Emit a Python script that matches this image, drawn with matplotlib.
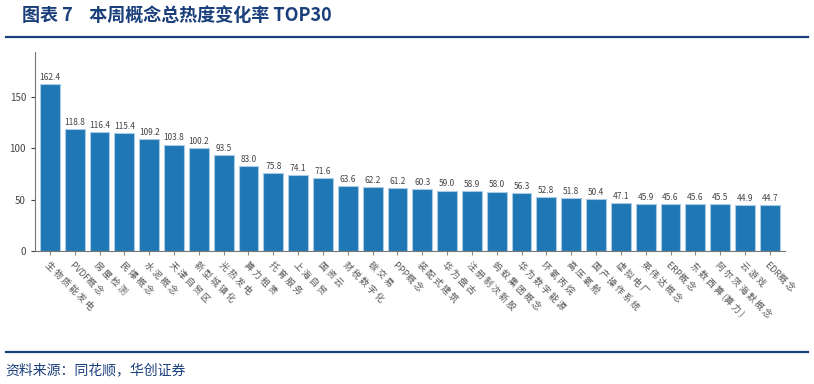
import matplotlib
matplotlib.use("Agg")
import matplotlib.pyplot as plt
from matplotlib.lines import Line2D

plt.rcParams['font.family'] = ['Noto Sans CJK SC', 'DejaVu Sans']

concepts = ["生物质能发电", "PVDF概念", "房屋检测", "民爆概念", "水泥概念", "天津自贸区",
            "新型城镇化", "光热发电", "算力租赁", "托育服务", "上海自贸", "国资云",
            "财税数字化", "碳交易", "PPP概念", "装配式建筑", "华为盘古", "注册制次新股",
            "蚂蚁集团概念", "华为数字能源", "环氧丙烷", "高压氧舱", "国产操作系统", "虚拟电厂",
            "英伟达概念", "ERP概念", "东数西算(算力)", "阿尔茨海默概念", "云游戏", "EDR概念"]
rates = [162.4, 118.8, 116.4, 115.4, 109.2, 103.8, 100.2, 93.5, 83.0, 75.8, 74.1, 71.6,
         63.6, 62.2, 61.2, 60.3, 59.0, 58.9, 58.0, 56.3, 52.8, 51.8, 50.4, 47.1,
         45.9, 45.6, 45.6, 45.5, 44.9, 44.7]
yticks = [0, 50, 100, 150]

navy = "#1b3f7a"


def spaced(s):
    # the source font leaves a gap after each hanzi
    out = ""
    for ch in s:
        out += ch
        if ord(ch) > 0x2e80:
            out += " "
    return out.rstrip()


fig = plt.figure(figsize=(8.14, 3.84), dpi=100)
ax = fig.add_axes([0.043, 0.346, 0.921, 0.519])

x = range(len(rates))
ax.bar(x, rates, width=0.8, color="#1f77b4", edgecolor="#a9cbe8", linewidth=0.8)
for i, v in zip(x, rates):
    ax.text(i, v + 2, f"{v:.1f}", ha="center", va="bottom",
            fontsize=6, color="#444444")

ax.set_xlim(-0.6, len(rates) - 0.4)
ax.set_ylim(0, 194)
ax.set_yticks(yticks)
ax.set_xticks(list(x))
ax.set_xticklabels([spaced(c) for c in concepts], rotation=-45, ha="left", va="top",
                   rotation_mode="anchor", fontsize=6.5, color="#555555")
ax.tick_params(axis="y", labelsize=7, colors="#444444", length=3)
ax.tick_params(axis="x", length=3, colors="#888888", labelcolor="#555555")
for side in ["top", "right"]:
    ax.spines[side].set_visible(False)
for side in ["left", "bottom"]:
    ax.spines[side].set_color("#777777")

fig.text(0.027, 0.96, "图表 7    本周概念总热度变化率 TOP30", fontsize=13, fontweight="bold",
         color=navy, va="center", ha="left")
fig.add_artist(Line2D([0.007, 0.993], [0.903, 0.903], color=navy, linewidth=1.6))
fig.add_artist(Line2D([0.007, 0.993], [0.083, 0.083], color=navy, linewidth=1.6))
fig.text(0.007, 0.037, "资料来源：同花顺，华创证券", fontsize=10, color=navy,
         va="center", ha="left", style="italic")

fig.savefig("out.png", dpi=100)
